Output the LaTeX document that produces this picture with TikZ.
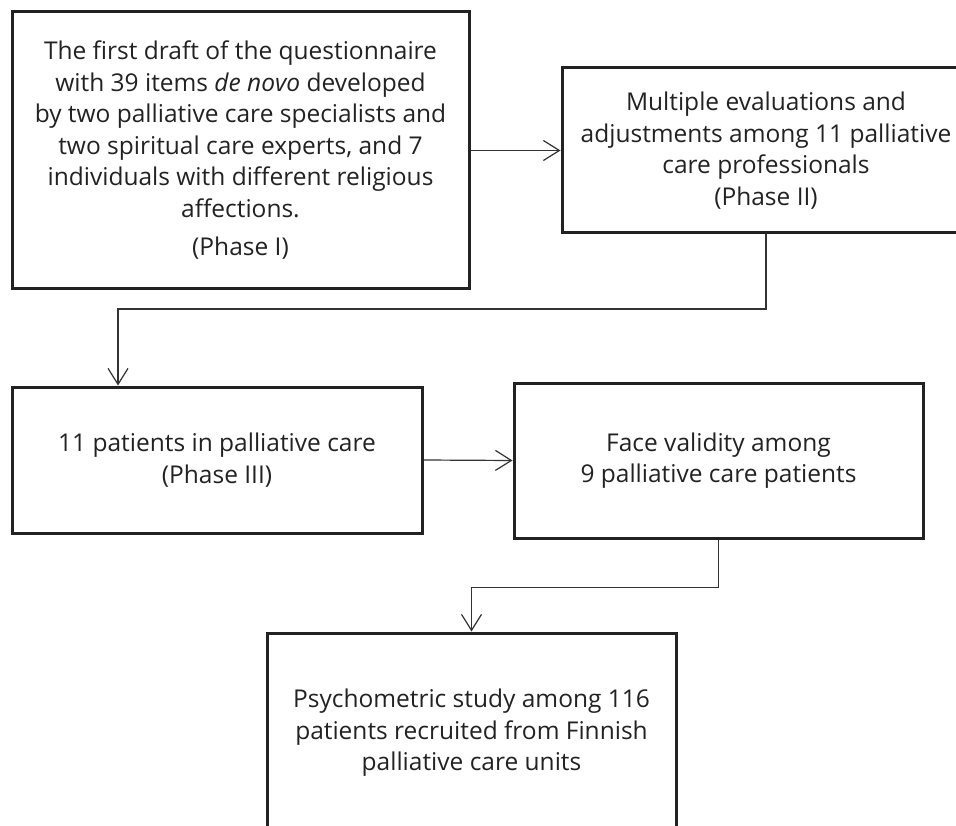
\documentclass[tikz,border=0pt]{standalone}
\usepackage{fontspec}
\setmainfont{Open Sans}
\usetikzlibrary{arrows.meta,calc}
\definecolor{boxc}{HTML}{222222}
\definecolor{linec}{HTML}{333333}
\definecolor{txt}{HTML}{222222}
\begin{document}
\begin{tikzpicture}[x=1pt,y=-1pt,
  box/.style={draw=boxc, line width=3pt, align=center, inner sep=0pt, text=txt,
    font=\fontsize{24.5}{31.5}\selectfont},
  conn/.style={draw=linec, line width=1.2pt,
    -{Straight Barb[length=16pt,width=20pt,line width=1.2pt]}}]
\useasboundingbox (0,0) rectangle (956,826);
\clip (0,0) rectangle (956,826);
\node[box, minimum width=457pt, minimum height=277pt] (b1) at (240.5,150.5)
  {The first draft of the questionnaire\\
   with 39 items \textit{de novo} developed\\
   by two palliative care specialists and\\
   two spiritual care experts, and 7\\
   individuals with different religious\\
   affections.\\[7pt]
   (Phase I)};
\node[box, minimum width=408pt, minimum height=165pt] (b2) at (766,150.5)
  {Multiple evaluations and\\
   adjustments among 11 palliative\\
   care professionals\\
   (Phase II)};
\node[box, minimum width=410pt, minimum height=146pt] (b3) at (217,460)
  {11 patients in palliative care\\(Phase III)};
\node[box, minimum width=409pt, minimum height=155pt] (b4) at (718.5,460.5)
  {Face validity among\\9 palliative care patients};
\node[box, minimum width=409pt, minimum height=200pt] (b5) at (471.5,733)
  {Psychometric study among 116\\
   patients recruited from Finnish\\
   palliative care units};
\coordinate (k1) at (118,309);
\draw[conn] (b1.east) -- (b2.west);
\draw[conn] (b2.south) |- (k1) -- (k1 |- b3.north);
\draw[conn] (b3.east) -- (b4.west);
\draw[conn] (b4.south) -- ++(0,48) -| (b5.north);
\end{tikzpicture}
\end{document}
